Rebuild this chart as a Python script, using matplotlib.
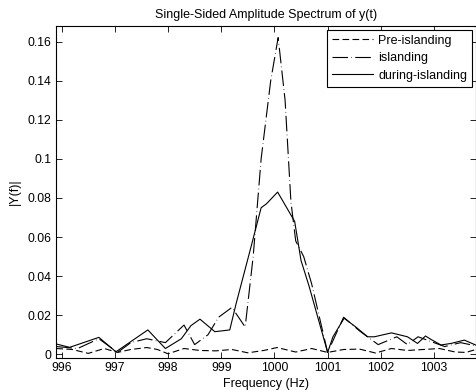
import matplotlib
matplotlib.use('Agg')
import matplotlib.pyplot as plt
from matplotlib.ticker import FuncFormatter

plt.rcParams['font.family'] = ['Liberation Sans', 'DejaVu Sans']
plt.rcParams['font.size'] = 9

# Pre-islanding spectrum
freq_pre = [995.9, 996.2, 996.5, 996.8, 997.05, 997.3, 997.6, 997.8, 998.0, 998.3,
            998.6, 998.9, 999.2, 999.5, 999.8, 1000.05, 1000.4, 1000.7, 1001.0, 1001.3,
            1001.6, 1001.9, 1002.2, 1002.5, 1002.8, 1003.1, 1003.4, 1003.6, 1003.85]
amp_pre = [0.003, 0.0025, 0.0005, 0.003, 0.001, 0.0025, 0.0035, 0.0025, 0.0003, 0.003,
           0.002, 0.0018, 0.0025, 0.0008, 0.002, 0.0035, 0.0012, 0.003, 0.001, 0.0025,
           0.0027, 0.0007, 0.003, 0.002, 0.0025, 0.003, 0.0012, 0.001, 0.003]

# islanding spectrum
freq_isl = [995.9, 996.3, 996.7, 997.05, 997.3, 997.6, 997.95, 998.3, 998.5, 998.75,
            998.95, 999.2, 999.45, 999.6, 999.75, 999.93, 1000.07, 1000.2, 1000.31, 1000.4,
            1000.55, 1000.7, 1001.0, 1001.3, 1001.6, 1001.95, 1002.3, 1002.5, 1002.7, 1002.9,
            1003.2, 1003.5, 1003.85]
amp_isl = [0.004, 0.003, 0.008, 0.001, 0.006, 0.008, 0.006, 0.015, 0.005, 0.010,
           0.019, 0.024, 0.014, 0.050, 0.100, 0.140, 0.162, 0.130, 0.078, 0.058,
           0.050, 0.036, 0.001, 0.019, 0.012, 0.005, 0.009, 0.005, 0.009, 0.007,
           0.004, 0.006, 0.004]

# during-islanding spectrum
freq_dur = [995.9, 996.15, 996.7, 997.02, 997.62, 997.95, 998.25, 998.43, 998.6, 998.88,
            999.16, 999.28, 999.56, 999.75, 999.85, 1000.06, 1000.38, 1000.5, 1000.65, 1001.0,
            1001.1, 1001.31, 1001.53, 1001.75, 1001.88, 1002.2, 1002.5, 1002.69, 1002.84, 1002.94,
            1003.13, 1003.32, 1003.57, 1003.85]
amp_dur = [0.0053, 0.0036, 0.0087, 0.0013, 0.0125, 0.003, 0.008, 0.0147, 0.018, 0.0116,
           0.0125, 0.026, 0.055, 0.075, 0.077, 0.083, 0.068, 0.048, 0.035, 0.001,
           0.009, 0.0185, 0.014, 0.009, 0.009, 0.011, 0.009, 0.0056, 0.0094, 0.0077,
           0.0048, 0.0056, 0.0073, 0.004]

xticks = [996, 997, 998, 999, 1000, 1001, 1002, 1003]
yticks = [0, 0.02, 0.04, 0.06, 0.08, 0.1, 0.12, 0.14, 0.16]

fig = plt.figure(figsize=(4.77, 3.92), dpi=100)
ax = fig.add_axes([0.117, 0.087, 0.881, 0.847])

ax.plot(freq_pre, amp_pre, color='black', lw=0.8, dashes=(6, 3), label='Pre-islanding')
ax.plot(freq_isl, amp_isl, color='black', lw=0.8, dashes=(14, 3, 0.5, 3), label='islanding')
ax.plot(freq_dur, amp_dur, color='black', lw=0.8, label='during-islanding')

ax.set_xlim(995.89, 1003.79)
ax.set_ylim(-0.0018, 0.168)
ax.set_xticks(xticks)
ax.set_yticks(yticks)
ax.yaxis.set_major_formatter(FuncFormatter(lambda v, p: '%g' % v))
ax.tick_params(direction='in', top=True, right=True, length=4, width=0.6, pad=3,
               labelsize=8.7)
for s in ax.spines.values():
    s.set_linewidth(0.8)

ax.set_title('Single-Sided Amplitude Spectrum of y(t)', fontsize=9, pad=6)
ax.set_xlabel('Frequency (Hz)', labelpad=3)
ax.set_ylabel('|Y(f)|', labelpad=5)

leg = ax.legend(loc='upper right', fancybox=False, framealpha=1, edgecolor='black',
                handlelength=3.3, borderaxespad=0.3, labelspacing=0.45, borderpad=0.4,
                handletextpad=0.4)
leg.get_frame().set_linewidth(0.8)

fig.savefig('out.png', dpi=100)
